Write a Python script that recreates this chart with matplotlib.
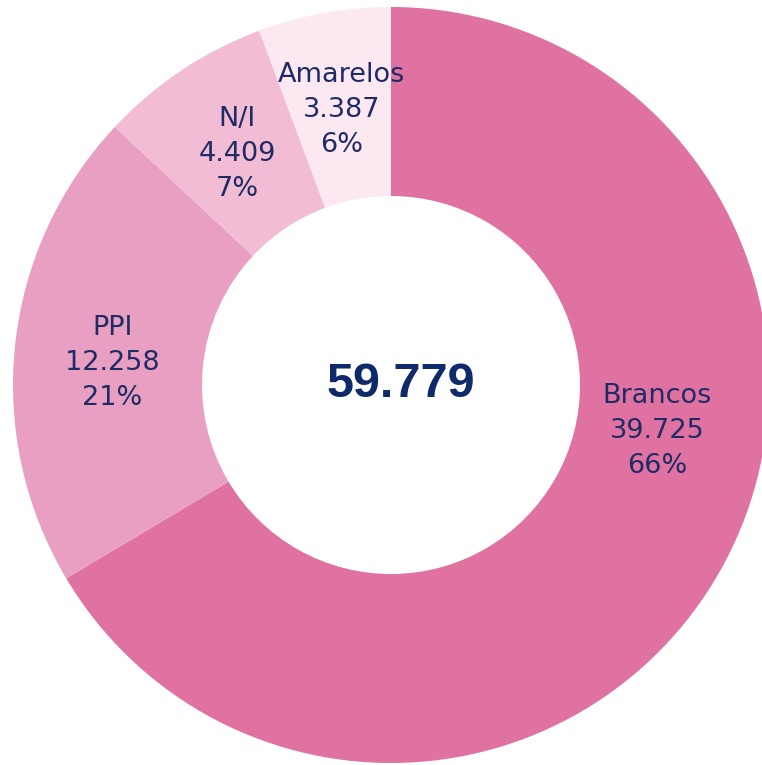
import matplotlib
matplotlib.use("Agg")
import matplotlib.pyplot as plt
import numpy as np

categories = ["Brancos", "PPI", "N/I", "Amarelos"]
values = [39725, 12258, 4409, 3387]
value_labels = ["39.725", "12.258", "4.409", "3.387"]
pct_labels = ["66%", "21%", "7%", "6%"]
total_label = "59.779"

colors = ["#E072A2", "#E99FC1", "#F1BCD4", "#FCE8F1"]
text_color = "#1E2B64"
center_color = "#0F2A6B"

W, H, DPI = 762, 765, 100
cx, cy_top, R = 391, 385, 378  # pixel centre and radius

fig = plt.figure(figsize=(W / DPI, H / DPI), dpi=DPI)
ax = fig.add_axes([0, 0, 1, 1])

wedges, _ = ax.pie(values, colors=colors, startangle=90, counterclock=False,
                   radius=1.0, wedgeprops=dict(width=0.5, linewidth=0),
                   normalize=True)
ax.set_xlim(-cx / R, (W - cx) / R)
ax.set_ylim(-(H - cy_top) / R, cy_top / R)
ax.set_aspect("auto")
ax.axis("off")

# label placement: mid-angle of wedge, with overrides
label_r = [0.715, 0.74, 0.735, 0.74]
angle_override = {0: -9.8, 1: 175.5}
for i, w in enumerate(wedges):
    ang = (w.theta1 + w.theta2) / 2
    if i in angle_override:
        ang = angle_override[i]
    a = np.deg2rad(ang)
    x, y = label_r[i] * np.cos(a), label_r[i] * np.sin(a)
    ax.text(x, y, f"{categories[i]}\n{value_labels[i]}\n{pct_labels[i]}",
            ha="center", va="center", fontsize=19.5, color=text_color,
            family="DejaVu Sans", linespacing=1.45)

ax.text(0.027, 0.0, total_label, ha="center", va="center", fontsize=35,
        fontweight="bold", color=center_color, family="Liberation Sans")

fig.savefig("out.png", dpi=DPI, facecolor="white")
